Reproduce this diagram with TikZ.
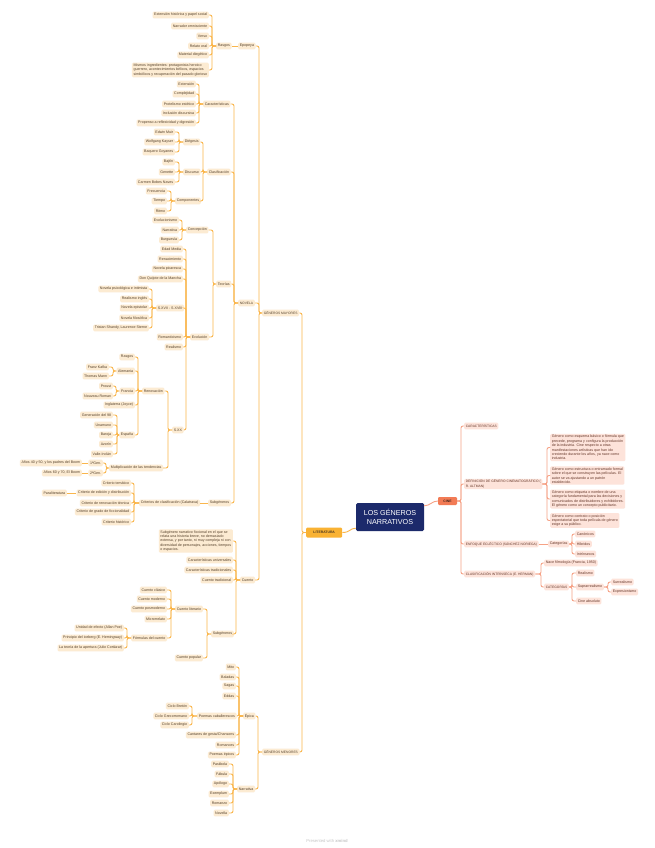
\documentclass[tikz,border=0pt]{standalone}
\usepackage{fontspec}
\setmainfont{Liberation Sans}
\usetikzlibrary{calc}
\definecolor{lfill}{HTML}{FCEBD2}
\definecolor{ltext}{HTML}{54402A}
\definecolor{lline}{HTML}{FAB64C}
\definecolor{rfill}{HTML}{FDE3DA}
\definecolor{rtext}{HTML}{643628}
\definecolor{rline}{HTML}{F6A286}
\definecolor{navy}{HTML}{1C2A6B}
\definecolor{litfill}{HTML}{F9B233}
\definecolor{cinefill}{HTML}{F27B55}
\tikzset{
 base/.style={rounded corners=1.2pt, inner xsep=1.6pt, inner ysep=1.2pt, font=\fontsize{3.6}{4.4}\selectfont, align=left, minimum height=6.6pt},
 lf/.style={base, fill=lfill, text=ltext, anchor=east},
 lfw/.style={base, fill=lfill, text=ltext, anchor=west},
 capsL/.style={font=\fontsize{3.3}{4.2}\selectfont},
 rf/.style={base, fill=rfill, text=rtext, anchor=west},
 rfc/.style={rf, font=\fontsize{3.3}{4.2}\selectfont},
 lnL/.style={draw=lline, line width=0.9pt, rounded corners=2pt},
 lnR/.style={draw=rline, line width=0.9pt, rounded corners=2pt},
}
\newcommand\lkL[3]{\foreach \ch in {#1} {\draw[lnL] (\ch.east) -- (\ch.east -| #2) |- (#3.west);}}
\newcommand\lkR[3]{\foreach \ch in {#1} {\draw[lnR] (#3.east) -- (#3.east -| #2) |- (\ch.west);}}
\begin{document}
\begin{tikzpicture}[x=1pt,y=-1pt]
\fill[white] (0,0) rectangle (655,848);
\useasboundingbox (0,0) rectangle (655,848);

% ---------- bars ----------
\coordinate (bRas) at (212,0);
\coordinate (bCar) at (199,0);
\coordinate (bDie) at (179,0);
\coordinate (bDis) at (179,0);
\coordinate (bCom) at (171,0);
\coordinate (bCla) at (203,0);
\coordinate (bCon) at (182,0);
\coordinate (bEvo) at (186,0);
\coordinate (bS17) at (152,0);
\coordinate (bTeo) at (213,0);
\coordinate (bSXX) at (168,0);
\coordinate (bRen) at (138,0);
\coordinate (bAle) at (113,0);
\coordinate (bFra) at (116,0);
\coordinate (bEsp) at (117,0);
\coordinate (bMul) at (106,0);
\coordinate (bCri) at (134,0);
\coordinate (bNov) at (234,0);
\coordinate (bCue) at (236,0);
\coordinate (bSub2) at (207,0);
\coordinate (bCl) at (171,0);
\coordinate (bFo) at (127,0);
\coordinate (bGM) at (259,0);
\coordinate (bGMn) at (258,0);
\coordinate (bEpi) at (239,0);
\coordinate (bPc) at (192,0);
\coordinate (bNar) at (233,0);
\coordinate (bLit) at (302,0);
\coordinate (bCine) at (461,0);
\coordinate (bDef) at (547,0);
\coordinate (bCat) at (572,0);
\coordinate (bClaR) at (541,0);
\coordinate (bCats) at (572,0);
\coordinate (bSup) at (608,0);

% ---------- Epopeya ----------
\node[lf] (e1) at (209,15) {Extensión histórica y papel social};
\node[lf] (e2) at (209,26) {Narrador omnisciente};
\node[lf] (e3) at (209,36) {Verso};
\node[lf] (e4) at (209,46) {Relato oral};
\node[lf] (e5) at (209,55) {Material diegético};
\node[lf] (e6) at (209,70) {Mismos ingredientes: protagonista heroico\\guerrero, acontecimientos bélicos, espacios\\simbólicos y recuperación del pasado glorioso};
\node[lfw] (ras) at (216,46) {Rasgos};
\node[lfw] (epo) at (238,46) {Epopeya};

% ---------- Características ----------
\node[lf] (c1) at (196,84) {Extensión};
\node[lf] (c2) at (196,94) {Complejidad};
\node[lf] (c3) at (196,104) {Protelismo estético};
\node[lf] (c4) at (196,113) {Inclusión discursiva};
\node[lf] (c5) at (196,123) {Propenso a reflexividad y digresión};
\node[lfw] (car) at (203,104) {Características};

% ---------- Clasificación ----------
\node[lf] (d1) at (175,132) {Edwin Muir};
\node[lf] (d2) at (175,142) {Wolfgang Kayser};
\node[lf] (d3) at (175,152) {Baquero Goyanes};
\node[lfw] (die) at (183,142) {Diégesis};
\node[lf] (d4) at (175,162) {Bajtín};
\node[lf] (d5) at (175,172) {Genette};
\node[lf] (d6) at (175,182) {Carmen Bobes Naves};
\node[lfw] (dis) at (183,172) {Discurso};
\node[lf] (d7) at (167,191) {Frecuencia};
\node[lf] (d8) at (167,201) {Tiempo};
\node[lf] (d9) at (167,211) {Ritmo};
\node[lfw] (com) at (175,201) {Componentes};
\node[lfw] (cla) at (207,172) {Clasificación};

% ---------- Teorías ----------
\node[lf] (t1) at (179,220) {Evolucionismo};
\node[lf] (t2) at (179,230) {Narrativa};
\node[lf] (t3) at (179,240) {Burguesía};
\node[lfw] (con) at (186,230) {Concepción};
\node[lf] (v1) at (183,249) {Edad Media};
\node[lf] (v2) at (183,259) {Renacimiento};
\node[lf] (v3) at (183,269) {Novela picaresca};
\node[lf] (v4) at (183,279) {Don Quijote de la Mancha};
\node[lfw] (v5) at (156,308) {S.XVII - S.XVIII};
\node[lf] (v6) at (183,337) {Romanticismo};
\node[lf] (v7) at (183,347) {Realismo};
\node[lfw] (v8) at (172,430) {S.XX};
\node[lfw] (evo) at (190,337) {Evolución};
\node[lf] (x1) at (149,289) {Novela psicológica e intimista};
\node[lf] (x2) at (149,299) {Realismo inglés};
\node[lf] (x3) at (149,308) {Novela epistolar};
\node[lf] (x4) at (149,318) {Novela filosófica};
\node[lf] (x5) at (149,328) {Tristan Shandy, Laurence Sterne};
\node[lfw] (teo) at (216,284) {Teorías};

% ---------- S.XX ----------
\node[lfw] (ren) at (142,391) {Renovación};
\node[lfw] (mul) at (109,468) {Multiplicación de las tendencias};
\node[lf] (r1) at (135,357) {Rasgos};
\node[lf] (r2) at (135,371) {Alemania};
\node[lf] (r3) at (135,391) {Francia};
\node[lf] (r4) at (135,405) {Inglaterra (Joyce)};
\node[lf] (r5) at (135,435) {España};
\node[lf] (a1) at (109,367) {Franz Kafka};
\node[lf] (a2) at (109,376) {Thomas Mann};
\node[lf] (f1) at (113,386) {Proust};
\node[lf] (f2) at (113,396) {Nouveau Roman};
\node[lf] (sp1) at (113,415) {Generación del 98};
\node[lf] (sp2) at (113,425) {Unamuno};
\node[lf] (sp3) at (113,435) {Baroja};
\node[lf] (sp4) at (113,444) {Azorín};
\node[lf] (sp5) at (113,454) {Valle-Inclán};
\node[lf] (g1n) at (103,463) {1ªGen.};
\node[lf] (g2n) at (103,473) {2ªGen.};
\node[lf] (y1) at (82,463) {Años 40 y 50, y los padres del Boom};
\node[lf] (y2) at (82,473) {Años 60 y 70, El Boom};

% ---------- Subgéneros (novela) ----------
\node[lfw] (sub) at (208,503) {Subgéneros};
\node[lfw] (cri) at (139,503) {Criterios de clasificación (Calatrava)};
\node[lf] (cr1) at (131,483) {Criterio temático};
\node[lf] (cr2) at (131,493) {Criterio de edición y distribución};
\node[lf] (cr3) at (131,503) {Criterio de renovación técnica};
\node[lf] (cr4) at (131,512) {Criterio de grado de ficcionalidad};
\node[lf] (cr5) at (131,522) {Criterio histórico};
\node[lf] (para) at (67,493) {Paraliteratura};

\node[lfw, capsL] (nov) at (238,303) {NOVELA};

% ---------- Cuento ----------
\node[lfw] (cue) at (240,580) {Cuento};
\node[lf] (cd) at (233,541) {Subgénero narrativo ficcional en el que se\\relata una historia breve, no demasiado\\extensa, y por tanto, ni muy compleja ni con\\diversidad de personajes, acciones, tiempos\\o espacios.};
\node[lf] (cu1) at (233,560) {Características universales};
\node[lf] (cu2) at (233,570) {Características tradicionales};
\node[lf] (cu3) at (233,580) {Cuento tradicional};
\node[lfw] (sub2) at (211,634) {Subgéneros};
\node[lfw] (cl) at (175,609) {Cuento literario};
\node[lf] (cp) at (203,658) {Cuento popular};
\node[lf] (l1) at (167,590) {Cuento clásico};
\node[lf] (l2) at (167,599) {Cuento moderno};
\node[lf] (l3) at (167,609) {Cuento posmoderno};
\node[lf] (l4) at (167,619) {Microrrelato};
\node[lfw] (fo) at (131,638) {Fórmulas del cuento};
\node[lf] (o1) at (124,628) {Unidad de efecto (Allan Poe)};
\node[lf] (o2) at (124,638) {Principio del iceberg (E. Hemingway)};
\node[lf] (o3) at (124,648) {La teoría de la apertura (Julio Cortázar)};

\node[lfw, capsL] (gm) at (262,313) {GÉNEROS MAYORES};

% ---------- Géneros menores ----------
\node[lfw, capsL] (gmn) at (262,752) {GÉNEROS MENORES};
\node[lfw] (epi) at (243,716) {Épica};
\node[lfw] (nar) at (237,789) {Narrativa};
\node[lf] (m1) at (236,667) {Mito};
\node[lf] (m2) at (236,677) {Baladas};
\node[lf] (m3) at (236,686) {Sagas};
\node[lf] (m4) at (236,696) {Eddas};
\node[lfw] (pc) at (197,716) {Poemas caballerescos};
\node[lf] (m5) at (236,735) {Cantares de gesta/Chansons};
\node[lf] (m6) at (236,745) {Romances};
\node[lf] (m7) at (236,755) {Poemas épicos};
\node[lf] (cb1) at (189,706) {Ciclo Bretón};
\node[lf] (cb2) at (189,716) {Ciclo Grecorromano};
\node[lf] (cb3) at (189,725) {Ciclo Carolingio};
\node[lf] (n1) at (229,764) {Parábola};
\node[lf] (n2) at (229,774) {Fábula};
\node[lf] (n3) at (229,784) {Apólogo};
\node[lf] (n4) at (229,794) {Exemplum};
\node[lf] (n5) at (229,803) {Romanzo};
\node[lf] (n6) at (229,813) {Novella};

% ---------- centre ----------
\node[fill=litfill, text=ltext!80!black, rounded corners=1.2pt, anchor=west, minimum width=36pt, minimum height=10pt, inner sep=0pt, font=\fontsize{3.4}{4}\selectfont\bfseries] (lit) at (306,532.5) {LITERATURA};
\node[fill=navy, text=white, rounded corners=1.5pt, minimum width=68pt, minimum height=28pt, inner sep=0pt, align=center, font=\fontsize{7.2}{9.5}\selectfont] (C) at (390,517) {LOS GÉNEROS\\NARRATIVOS};
\node[fill=cinefill, text=rtext!70!black, rounded corners=1.2pt, minimum width=19pt, minimum height=8pt, inner sep=0pt, font=\fontsize{3.4}{4}\selectfont\bfseries] (cine) at (447.5,501) {CINE};

% ---------- right side ----------
\node[rfc] (rcar) at (464,426) {CARACTERÍSTICAS};
\node[rfc] (rdef) at (464,484) {DEFINICIÓN DE GÉNERO CINEMATOGRÁFICO (\\R. ALTMAN)};
\node[rfc] (renf) at (464,544) {ENFOQUE ECLÉCTICO (SÁNCHEZ NORIEGA)};
\node[rfc] (rcla) at (464,574) {CLASIFICACIÓN INTRÍNSECA (E. HERMAN)};
\node[rf] (g1) at (550,447.5) {Género como esquema básico o fórmula que\\precede, programa y configura la producción\\de la industria. Cine respecto a otras\\manifestaciones artísticas que han ido\\creciendo durante los años, ya nace como\\industria.};
\node[rf] (g2) at (550,475.5) {Género como estructura o entramado formal\\sobre el que se construyen las películas. El\\autor se va ajustando a un patrón\\establecido.};
\node[rf] (g3) at (550,499) {Género como etiqueta o nombre de una\\categoría fundamental para las decisiones y\\comunicados de distribuidores y exhibidores.\\El género como un concepto publicitario.};
\node[rf] (g4) at (550,520.5) {Género como contrato o posición\\espectatorial que toda película de género\\exige a su público.};
\node[rf] (rcat) at (548,544) {Categorías};
\node[rf] (k1) at (575,534) {Canónicos};
\node[rf] (k2) at (575,544) {Híbridos};
\node[rf] (k3) at (575,554) {Intrínsecos};
\node[rf] (nace) at (544,563) {Nace filmología (Francia, 1950)};
\node[rfc] (rcats) at (544,587) {CATEGORÍAS};
\node[rf] (q1) at (576,573) {Realismo};
\node[rf] (q2) at (576,587) {Suprarrealismo};
\node[rf] (q3) at (576,601) {Cine absoluto};
\node[rf] (s1) at (611,582) {Surrealismo};
\node[rf] (s2) at (611,592) {Expresionismo};

\node[text=gray!45, font=\fontsize{4.2}{5}\selectfont] (wm) at (327,841) {Presented with \textbf{xmind}};

% ---------- connectors (left) ----------
\lkL{e1,e2,e3,e4,e5,e6}{bRas}{ras}
\draw[lnL] (ras.east) -- (epo.west);
\lkL{c1,c2,c3,c4,c5}{bCar}{car}
\lkL{d1,d2,d3}{bDie}{die}
\lkL{d4,d5,d6}{bDis}{dis}
\lkL{d7,d8,d9}{bCom}{com}
\lkL{die,dis,com}{bCla}{cla}
\lkL{t1,t2,t3}{bCon}{con}
\lkL{v1,v2,v3,v4,v5,v6,v7,v8}{bEvo}{evo}
\lkL{x1,x2,x3,x4,x5}{bS17}{v5}
\lkL{con,evo}{bTeo}{teo}
\lkL{ren,mul}{bSXX}{v8}
\lkL{r1,r2,r3,r4,r5}{bRen}{ren}
\lkL{a1,a2}{bAle}{r2}
\lkL{f1,f2}{bFra}{r3}
\lkL{sp1,sp2,sp3,sp4,sp5}{bEsp}{r5}
\lkL{g1n,g2n}{bMul}{mul}
\draw[lnL] (y1.east) -- (g1n.west);
\draw[lnL] (y2.east) -- (g2n.west);
\lkL{cr1,cr2,cr3,cr4,cr5}{bCri}{cri}
\draw[lnL] (para.east) -- (cr2.west);
\draw[lnL] (cri.east) -- (sub.west);
\lkL{car,cla,teo,sub}{bNov}{nov}
\lkL{cd,cu1,cu2,cu3,sub2}{bCue}{cue}
\lkL{cl,cp}{bSub2}{sub2}
\lkL{l1,l2,l3,l4,fo}{bCl}{cl}
\lkL{o1,o2,o3}{bFo}{fo}
\lkL{epo,nov,cue}{bGM}{gm}
\lkL{m1,m2,m3,m4,pc,m5,m6,m7}{bEpi}{epi}
\lkL{cb1,cb2,cb3}{bPc}{pc}
\lkL{n1,n2,n3,n4,n5,n6}{bNar}{nar}
\lkL{epi,nar}{bGMn}{gmn}
\lkL{gm,gmn}{bLit}{lit}

% ---------- centre curves ----------
\draw[draw=lline, line width=0.9pt] (lit.east) .. controls +(8,0) and +(-6,0) .. ($(C.south west)+(0,-3)$);
\draw[draw=rline, line width=0.9pt] ($(C.north east)+(0,3)$) .. controls +(6,0) and +(-6,0) .. (cine.west);

% ---------- connectors (right) ----------
\lkR{rcar,rdef,renf,rcla}{bCine}{cine}
\lkR{g1,g2,g3,g4}{bDef}{rdef}
\draw[lnR] (renf.east) -- (rcat.west);
\lkR{k1,k2,k3}{bCat}{rcat}
\lkR{nace,rcats}{bClaR}{rcla}
\lkR{q1,q2,q3}{bCats}{rcats}
\lkR{s1,s2}{bSup}{q2}
\end{tikzpicture}
\end{document}
